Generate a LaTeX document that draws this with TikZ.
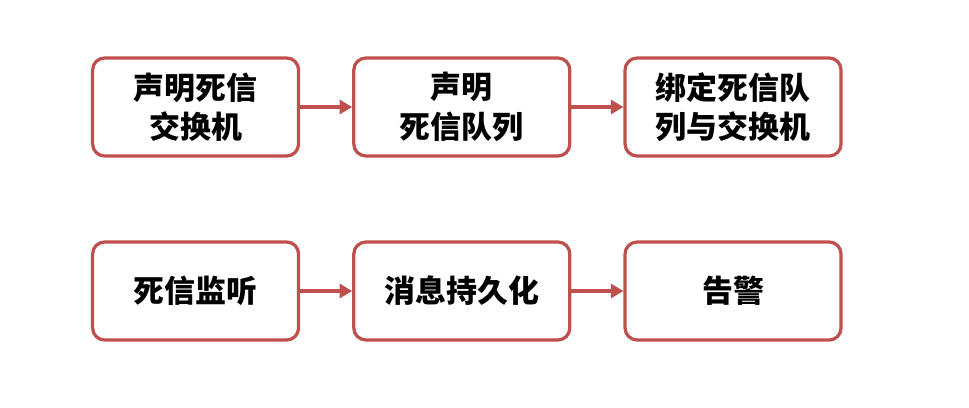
\documentclass[tikz,border=0pt]{standalone}
\usepackage{fontspec}
\setmainfont{Noto Sans CJK SC}
\usetikzlibrary{positioning,arrows.meta}
\definecolor{boxred}{HTML}{C0504D}
\begin{document}
\begin{tikzpicture}

        % Define box style
        \tikzset{stage/.style={rectangle, rounded corners=0.3cm, draw=boxred, line width=2.3pt, fill=white,
            minimum width=5.4cm, minimum height=2.45cm, align=center, font=\fontsize{22}{28}\selectfont\bfseries},
            link/.style={-{Triangle[length=9pt,width=10pt]}, draw=boxred, line width=2.5pt}}

        \useasboundingbox (0,0) rectangle (24.225,-10.2);

        % First row
        \node[stage, minimum width=5.15cm] (declex) at (4.89,-2.675) {声明死信\\交换机};
        \node[stage, right=1.3cm of declex] (declq) {声明\\死信队列};
        \node[stage, right=1.3cm of declq] (bind) {绑定死信队\\列与交换机};

        % Second row
        \node[stage, minimum width=5.15cm] (listen) at (4.89,-7.275) {死信监听};
        \node[stage, right=1.3cm of listen] (persist) {消息持久化};
        \node[stage, right=1.3cm of persist] (alarm) {告警};

        % Arrows
        \draw[link] (declex) -- (declq);
        \draw[link] (declq) -- (bind);
        \draw[link] (listen) -- (persist);
        \draw[link] (persist) -- (alarm);

\end{tikzpicture}
\end{document}
